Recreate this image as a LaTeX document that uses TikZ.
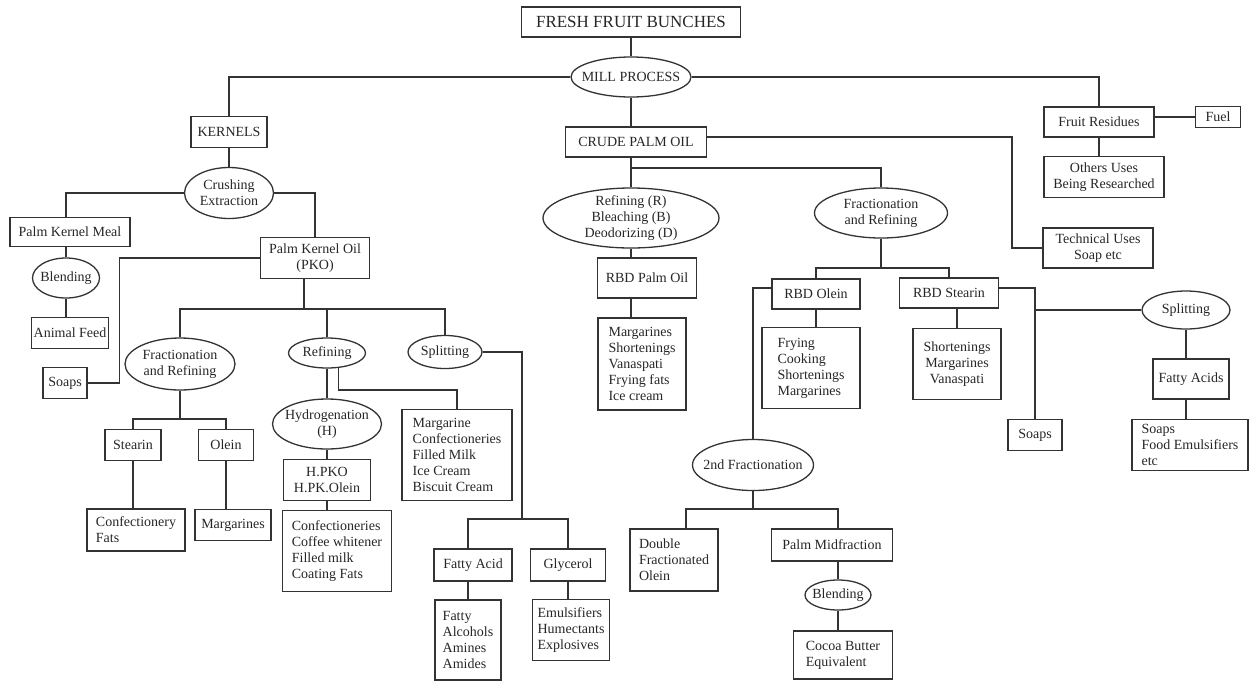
\documentclass[tikz,border=0pt]{standalone}
\usepackage{fontspec}
\setmainfont{Liberation Serif}
\usepackage{tikz}
\usetikzlibrary{arrows,shapes}
\tikzstyle{box}=[draw=black!80,rectangle,line width=1.3pt,inner sep=0pt,align=center,text=black!85]
\tikzstyle{list}=[box,align=left]
\tikzstyle{oval}=[draw=black!80,ellipse,line width=1.3pt,inner sep=-30pt,align=center,text=black!85]
\tikzstyle{edge} = [draw,line width=1.3pt,black!80,-]

\begin{document}
\begin{tikzpicture}[x=1pt,y=-1pt,font=\fontsize{14}{16}\selectfont]
    \useasboundingbox (0,0) rectangle (1250,681);
    % First we draw the top of the tree
    \node[box,minimum width=219pt,minimum height=30pt,font=\fontsize{17}{19}\selectfont] (ffb) at (631,22) {FRESH FRUIT BUNCHES};
    \node[oval,minimum width=120pt,minimum height=40pt] (mill) at (631,77) {MILL PROCESS};
    \node[box,minimum width=76pt,minimum height=31pt] (kernels) at (229,132) {KERNELS};
    \node[box,minimum width=141pt,minimum height=30pt] (cpo) at (636,142) {CRUDE PALM OIL};
    \node[box,minimum width=110pt,minimum height=30pt] (fruit) at (1099,122) {Fruit Residues};
    \node[box,minimum width=45pt,minimum height=21pt] (fuel) at (1218,117) {Fuel};
    \node[box,minimum width=120pt,minimum height=41pt] (others) at (1104,177) {Others Uses\\Being Researched};
    \node[box,minimum width=110pt,minimum height=40pt] (tech) at (1098,248) {Technical Uses\\Soap etc};
    % Kernel side
    \node[oval,minimum width=89pt,minimum height=51pt] (crush) at (229,193) {Crushing\\Extraction};
    \node[box,minimum width=120pt,minimum height=29pt] (pkm) at (70,232) {Palm Kernel Meal};
    \node[oval,minimum width=67pt,minimum height=40pt] (blendA) at (66,278) {Blending};
    \node[box,minimum width=77pt,minimum height=31pt] (feed) at (70,333) {Animal Feed};
    \node[box,minimum width=44pt,minimum height=31pt] (soapsA) at (65,383) {Soaps};
    \node[box,minimum width=109pt,minimum height=41pt] (pko) at (315,258) {Palm Kernel Oil\\(PKO)};
    \node[oval,minimum width=110pt,minimum height=52pt] (fracA) at (180,364) {Fractionation\\and Refining};
    \node[oval,minimum width=77pt,minimum height=30pt] (refA) at (327,353) {Refining};
    \node[oval,minimum width=74pt,minimum height=33pt] (splitA) at (445,352) {Splitting};
    \node[box,minimum width=56pt,minimum height=31pt] (stearinA) at (133,445) {Stearin};
    \node[box,minimum width=55pt,minimum height=31pt] (oleinA) at (226,445) {Olein};
    \node[list,minimum width=98pt,minimum height=42pt] (cfats) at (136,530) {Confectionery\\Fats};
    \node[box,minimum width=76pt,minimum height=31pt] (margA) at (233,525) {Margarines};
    \node[oval,minimum width=109pt,minimum height=50pt] (hydro) at (327,424) {Hydrogenation\\(H)};
    \node[box,minimum width=87pt,minimum height=41pt] (hpko) at (327,480) {H.PKO\\H.PK.Olein};
    \node[list,minimum width=109pt,minimum height=81pt] (conf) at (337,551) {Confectioneries\\Coffee whitener\\Filled milk\\Coating Fats};
    \node[list,minimum width=110pt,minimum height=91pt] (margB) at (457,455) {Margarine\\Confectioneries\\Filled Milk\\Ice Cream\\Biscuit Cream};
    \node[box,minimum width=78pt,minimum height=32pt] (facid) at (473,565) {Fatty Acid};
    \node[box,minimum width=75pt,minimum height=32pt] (glyc) at (568,565) {Glycerol};
    \node[list,minimum width=66pt,minimum height=80pt] (falc) at (468,640) {Fatty\\Alcohols\\Amines\\Amides};
    \node[list,minimum width=77pt,minimum height=61pt] (emul) at (571,630) {Emulsifiers\\Humectants\\Explosives};
    % Palm oil side
    \node[oval,minimum width=176pt,minimum height=60pt] (rbd) at (631,218) {Refining (R)\\Bleaching (B)\\Deodorizing (D)};
    \node[box,minimum width=99pt,minimum height=40pt] (rbdpo) at (647,278) {RBD Palm Oil};
    \node[list,minimum width=88pt,minimum height=92pt] (usesA) at (642,364) {Margarines\\Shortenings\\Vanaspati\\Frying fats\\Ice cream};
    \node[oval,minimum width=133pt,minimum height=50pt] (fracB) at (881,213) {Fractionation\\and Refining};
    \node[box,minimum width=88pt,minimum height=30pt] (oleinB) at (816,294) {RBD Olein};
    \node[list,minimum width=98pt,minimum height=81pt] (usesB) at (811,368) {Frying\\Cooking\\Shortenings\\Margarines};
    \node[box,minimum width=99pt,minimum height=30pt] (stearinB) at (949,293) {RBD Stearin};
    \node[box,minimum width=88pt,minimum height=71pt] (usesC) at (957,364) {Shortenings\\Margarines\\Vanaspati};
    \node[box,minimum width=54pt,minimum height=31pt] (soapsB) at (1035,435) {Soaps};
    \node[oval,minimum width=88pt,minimum height=38pt] (splitB) at (1186,310) {Splitting};
    \node[box,minimum width=76pt,minimum height=40pt] (acids) at (1191,379) {Fatty Acids};
    \node[list,minimum width=116pt,minimum height=51pt] (usesD) at (1190,445) {Soaps\\Food Emulsifiers\\etc};
    \node[oval,minimum width=121pt,minimum height=51pt] (fracC) at (753,465) {2nd Fractionation};
    \node[list,minimum width=88pt,minimum height=62pt] (dfo) at (674,560) {Double\\Fractionated\\Olein};
    \node[box,minimum width=121pt,minimum height=32pt] (pmf) at (832,545) {Palm Midfraction};
    \node[oval,minimum width=66pt,minimum height=30pt] (blendB) at (838,595) {Blending};
    \node[list,minimum width=99pt,minimum height=48pt] (cocoa) at (843,655) {Cocoa Butter\\Equivalent};
    % Junctions of the branch lines
    \coordinate (busA) at (304,309);
    \coordinate (busB) at (180,419);
    \coordinate (busC) at (522,519);
    \coordinate (busD) at (631,168);
    \coordinate (busE) at (881,268);
    \coordinate (busF) at (753,509);
    \coordinate (turnA) at (1012,248);
    % Straight links, drawn at the x of the third node
    \foreach \a/\b/\c in {ffb/mill/ffb, mill/cpo/mill, kernels/crush/crush, pkm/blendA/blendA, blendA/feed/blendA,
        refA/hydro/refA, hydro/hpko/hydro, hpko/conf/hpko, facid/falc/falc, glyc/emul/glyc,
        stearinA/cfats/stearinA, oleinA/margA/oleinA, rbd/rbdpo/rbd, rbdpo/usesA/rbd, oleinB/usesB/oleinB,
        stearinB/usesC/usesC, splitB/acids/splitB, acids/usesD/splitB, pmf/blendB/blendB, blendB/cocoa/blendB,
        fruit/others/fruit, cpo/rbd/rbd}
        \path[edge] (\a.south -| \c) -- (\b.north -| \c);
    % Branches
    \path[edge] (kernels.north) |- (mill.west);
    \path[edge] (mill.east) -| (fruit.north);
    \path[edge] (fuel.west) -- (fuel.west -| fruit.east);
    \path[edge] (crush.west) -| (blendA |- pkm.north);
    \path[edge] (crush.east) -| (pko.north);
    \path[edge] (soapsA.east) -- ++(32,0) |- (pko.west);
    \path[edge] (pko.south -| busA) -- (busA);
    \path[edge] (fracA.north) |- (busA) -| (splitA.north);
    \path[edge] (refA.north) -- (refA |- busA);
    \path[edge] (fracA.south) -- (busB);
    \path[edge] (stearinA.north) |- (busB) -| (oleinA.north);
    \path[edge] (refA.-53) -- ++(0,22) -| (margB.north);
    \path[edge] (splitA.east) -| (busC);
    \path[edge] (falc |- facid.north) |- (busC) -| (glyc.north);
    \path[edge] (busD) -| (fracB.north);
    \path[edge] ([yshift=5pt]cpo.east) -| (turnA) -- (tech.west);
    \path[edge] (fracB.south) -- (busE);
    \path[edge] (oleinB.north) |- (busE) -| (stearinB.north);
    \path[edge] ([yshift=6pt]oleinB.west) -| (fracC.north);
    \path[edge] ([yshift=5pt]stearinB.east) -| (soapsB.north);
    \path[edge] (splitB.west) -- (splitB.west -| soapsB);
    \path[edge] (fracC.south) -- (busF);
    \path[edge] ([xshift=12pt]dfo.north) |- (busF) -| ([xshift=6pt]pmf.north);
\end{tikzpicture}
\end{document}
